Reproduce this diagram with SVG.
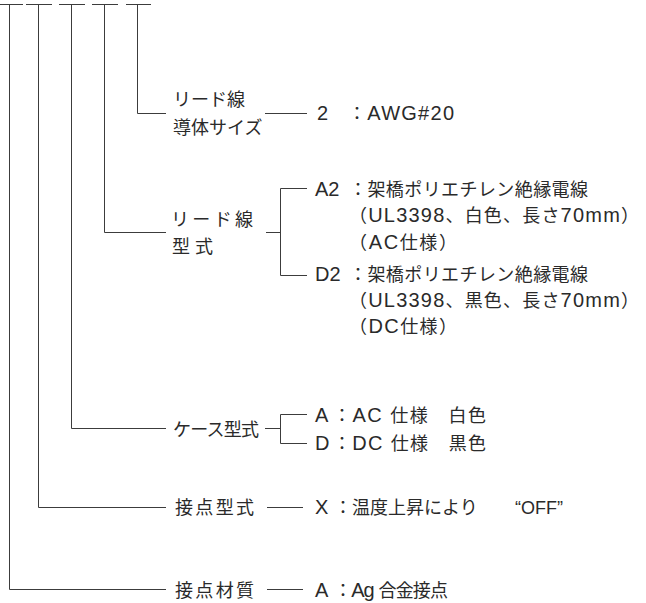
<svg xmlns="http://www.w3.org/2000/svg" width="646" height="603" viewBox="0 0 646 603">
<style>
text{font-family:"Liberation Sans","Noto Sans CJK JP",sans-serif;font-size:18px;fill:#2a2a2a}
.l{font-size:20px}
.q{font-size:18px}
.ln{fill:none;stroke:#3c3c3c;stroke-width:1}
</style>
<rect width="646" height="603" fill="#fff"/>
<g id="connectors" class="ln">
  <path d="M0 4.5H23M26 4.5H52M59 4.5H85M92 4.5H118M126 4.5H151"/>
  <path d="M137.5 4.5V113.5H166"/>
  <path d="M104.5 4.5V232.5H166"/>
  <path d="M71.5 4.5V428.5H166"/>
  <path d="M38.5 4.5V507.5H166"/>
  <path d="M9.5 4.5V589.5H166"/>
  <path d="M265 113.5H307"/>
  <path d="M266 232.5H280.5M307 188.5H280.5V275.5H307"/>
  <path d="M265 428.5H280.5M307 414.5H280.5V443.5H307"/>
  <path d="M267 507.5H303"/>
  <path d="M267 589.5H303"/>
</g>
<g id="lead-size">
  <text x="173" y="106">リード線</text>
  <text x="173" y="134">導体サイズ</text>
</g>
<g id="lead-size-2">
  <text x="317" y="120" class="l">2</text>
  <text x="348" y="120" textLength="106">：<tspan class="l">AWG#20</tspan></text>
</g>
<g id="lead-type">
  <text x="171" y="226" textLength="82">リード線</text>
  <text x="172" y="253" textLength="41">型式</text>
</g>
<g id="lead-type-a2">
  <text x="315" y="196" class="l">A2</text>
  <text x="349" y="196" textLength="239">：架橋ポリエチレン絶縁電線</text>
  <text x="349" y="222" textLength="290">（<tspan class="l">UL3398</tspan>、白色、長さ<tspan class="l">70mm</tspan>）</text>
  <text x="349" y="249" textLength="108">（<tspan class="l">AC</tspan>仕様）</text>
</g>
<g id="lead-type-d2">
  <text x="315" y="281" class="l">D2</text>
  <text x="349" y="281" textLength="239">：架橋ポリエチレン絶縁電線</text>
  <text x="349" y="307" textLength="290">（<tspan class="l">UL3398</tspan>、黒色、長さ<tspan class="l">70mm</tspan>）</text>
  <text x="349" y="333" textLength="108">（<tspan class="l">DC</tspan>仕様）</text>
</g>
<g id="case">
  <text x="173" y="436" textLength="86">ケース型式</text>
</g>
<g id="case-a">
  <text x="315" y="422" class="l">A</text>
  <text x="333" y="422" textLength="153">：<tspan class="l">AC </tspan>仕様　白色</text>
</g>
<g id="case-d">
  <text x="315" y="450" class="l">D</text>
  <text x="333" y="450" textLength="153">：<tspan class="l">DC </tspan>仕様　黒色</text>
</g>
<g id="contact-type">
  <text x="175" y="514" textLength="79">接点型式</text>
</g>
<g id="contact-type-x">
  <text x="315" y="514" class="l">X</text>
  <text x="334" y="514">：温度上昇により</text>
  <text x="515" y="514" class="q">“OFF”</text>
</g>
<g id="contact-mat">
  <text x="175" y="597" textLength="79">接点材質</text>
</g>
<g id="contact-mat-a">
  <text x="315" y="597" class="l">A</text>
  <text x="334" y="597" textLength="114">：<tspan class="l">Ag </tspan>合金接点</text>
</g>
</svg>
